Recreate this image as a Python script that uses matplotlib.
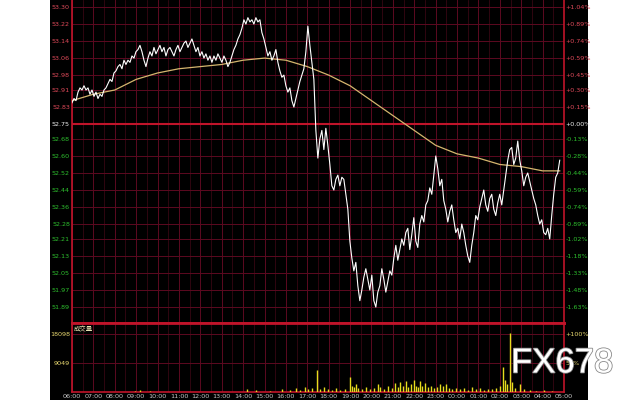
import numpy as np
import matplotlib
matplotlib.use("Agg")
import matplotlib.pyplot as plt
from matplotlib.patches import Rectangle
import matplotlib.patheffects as pe

# ---------------- data ----------------
price = [
    52.85, 52.87, 52.86, 52.90, 52.92, 52.91, 52.93, 52.91, 52.92, 52.89,
    52.91, 52.88, 52.90, 52.87, 52.89, 52.88, 52.91, 52.92, 52.94, 52.96,
    52.95, 52.99, 53.00, 53.02, 53.03, 53.01, 53.05, 53.03, 53.05, 53.04,
    53.07, 53.06, 53.09, 53.10, 53.12, 53.09, 53.05, 53.02, 53.06, 53.09,
    53.07, 53.11, 53.08, 53.10, 53.12, 53.09, 53.11, 53.07, 53.10, 53.11,
    53.09, 53.07, 53.10, 53.12, 53.09, 53.11, 53.13, 53.14, 53.11, 53.13,
    53.15, 53.12, 53.09, 53.11, 53.07, 53.09, 53.06, 53.08, 53.05, 53.07,
    53.04, 53.07, 53.05, 53.08, 53.06, 53.04, 53.07, 53.05, 53.02, 53.04,
    53.07, 53.10, 53.12, 53.15, 53.17, 53.20, 53.24, 53.22, 53.25, 53.23,
    53.24, 53.22, 53.25, 53.23, 53.24, 53.18, 53.15, 53.11, 53.07, 53.09,
    53.05, 53.07, 53.10, 53.04, 53.00, 52.97, 52.98, 52.93, 52.90, 52.92,
    52.86, 52.83, 52.87, 52.91, 52.95, 52.98, 53.01, 53.09, 53.21, 53.12,
    53.04, 52.96, 52.72, 52.59, 52.68, 52.72, 52.63, 52.73, 52.65, 52.56,
    52.46, 52.44, 52.49, 52.51, 52.46, 52.50, 52.49, 52.42, 52.35, 52.20,
    52.12, 52.06, 52.10, 51.99, 51.92, 51.97, 52.03, 52.07, 52.02, 51.97,
    52.04, 51.92, 51.89, 51.96, 51.99, 52.07, 52.02, 51.96, 52.01, 52.06,
    52.04, 52.12, 52.18, 52.11, 52.16, 52.21, 52.18, 52.24, 52.26, 52.16,
    52.23, 52.31, 52.20, 52.17, 52.28, 52.32, 52.29, 52.37, 52.39, 52.45,
    52.42, 52.51, 52.60, 52.54, 52.46, 52.49, 52.39, 52.35, 52.29, 52.34,
    52.37, 52.30, 52.24, 52.26, 52.21, 52.28, 52.24, 52.18, 52.13, 52.10,
    52.18, 52.24, 52.32, 52.30, 52.36, 52.40, 52.44, 52.37, 52.34, 52.40,
    52.42, 52.35, 52.32, 52.38, 52.42, 52.37, 52.44, 52.51, 52.58, 52.63,
    52.64, 52.56, 52.59, 52.67, 52.58, 52.53, 52.46, 52.50, 52.52, 52.48,
    52.44, 52.40, 52.37, 52.32, 52.28, 52.30, 52.24, 52.23, 52.26, 52.21,
    52.32, 52.42, 52.50, 52.52, 52.58,
]
price_end_minute = 1368  # last tick ~04:48

ma_minutes = [0, 60, 120, 180, 240, 300, 360, 420, 480, 540, 600, 660,
              720, 780, 840, 900, 960, 1020, 1080, 1140, 1200, 1260, 1320, 1368]
ma_values = [52.86, 52.89, 52.91, 52.96, 52.99, 53.01, 53.02, 53.03, 53.05,
             53.06, 53.05, 53.02, 52.98, 52.93, 52.86, 52.79, 52.72, 52.65,
             52.61, 52.59, 52.56, 52.55, 52.53, 52.53]

vol_minutes = [177, 191, 219, 491, 516, 555, 589, 611, 628, 639, 653, 662,
               673, 687, 695, 707, 718, 729, 740, 751, 765, 780, 785, 791,
               796, 802, 813, 824, 836, 847, 858, 864, 875, 886, 897, 906,
               914, 920, 928, 937, 942, 951, 959, 965, 970, 976, 981, 990,
               998, 1007, 1015, 1023, 1032, 1040, 1049, 1057, 1066, 1077,
               1088, 1099, 1110, 1122, 1133, 1144, 1155, 1166, 1178, 1189,
               1200, 1209, 1214, 1220, 1228, 1234, 1242, 1256, 1267, 1284,
               1301, 1324, 1346]
vol_values = [400, 600, 300, 900, 600, 300, 900, 600, 1200, 500, 1500, 900,
              1200, 6900, 1000, 1500, 800, 600, 1200, 700, 900, 4700, 2000,
              1500, 2500, 1200, 900, 1500, 800, 1200, 2500, 1500, 1000, 1800,
              1200, 2800, 1500, 3000, 2000, 3400, 1500, 2500, 3800, 2000,
              1500, 3500, 1800, 2800, 1500, 2000, 1200, 1600, 2600, 1800,
              2400, 1200, 900, 1300, 800, 1100, 700, 1500, 900, 1300, 700,
              1000, 800, 1400, 2000, 7800, 3800, 2500, 18400, 3100, 1200,
              2500, 900, 500, 400, 600, 300]

price_labels = ["53.30", "53.22", "53.14", "53.06", "52.98", "52.91", "52.83",
                "52.75", "52.68", "52.60", "52.52", "52.44", "52.36", "52.28",
                "52.21", "52.13", "52.05", "51.97", "51.89"]
pct_labels = ["+1.04%", "+0.89%", "+0.74%", "+0.59%", "+0.45%", "+0.30%",
              "+0.15%", "+0.00%", "-0.13%", "-0.28%", "-0.44%", "-0.59%",
              "-0.74%", "-0.89%", "-1.02%", "-1.18%", "-1.33%", "-1.48%",
              "-1.63%"]
base_price = 52.75
time_labels = ["06:00", "07:00", "08:00", "09:00", "10:00", "11:00", "12:00",
               "13:00", "14:00", "15:00", "16:00", "17:00", "18:00", "19:00",
               "20:00", "21:00", "22:00", "23:00", "00:00", "01:00", "02:00",
               "03:00", "04:00", "05:00"]
vol_ticks = [9049, 18098]
vol_tick_labels = ["9049", "18098"]
vol_pct_labels = ["50%", "+100%"]

# ---------------- style ----------------
W, H = 640, 400
RED_GRID = "#5c0a20"
RED_DIM = "#360712"
RED_BOLD = "#c0142a"
UP = "#e04a5a"
DOWN = "#2ec02e"
NEUTRAL = "#f0f0f0"
VOLC = "#e6dc1e"
LBL_Y = "#e8d870"
FS = 4.6

fig = plt.figure(figsize=(W / 100, H / 100), dpi=100)
fig.patch.set_facecolor("white")
fig.add_artist(Rectangle((50 / W, 0), 538 / W, 1, transform=fig.transFigure,
                         facecolor="black", edgecolor="none", zorder=0))

x0, x1 = 72, 564
ax = fig.add_axes([x0 / W, 1 - 323 / H, (x1 - x0) / W, 323 / H])
axv = fig.add_axes([x0 / W, 1 - 392 / H, (x1 - x0) / W, 69 / H])

total_min = 23 * 60
tick_vals = [float(s) for s in price_labels]

for a in (ax, axv):
    a.set_facecolor("black")
    a.set_xlim(0, total_min)
    for h in range(24):
        a.axvline(h * 60, color=RED_GRID, lw=0.7, zorder=1)
        if h < 23:
            a.axvline(h * 60 + 30, color=RED_DIM, lw=0.6, zorder=1)
    for s in a.spines.values():
        s.set_color(RED_BOLD)
        s.set_linewidth(1.2)

# main panel
ax.set_ylim(51.815, 53.333)
for v in tick_vals:
    if abs(v - base_price) < 1e-6:
        ax.axhline(v, color=RED_BOLD, lw=1.5, zorder=1)
    else:
        ax.axhline(v, color=RED_GRID, lw=0.7, zorder=1)
ax.spines["top"].set_visible(False)
ax.spines["bottom"].set_linewidth(2.0)

minutes = np.linspace(0, price_end_minute, len(price))
ax.plot(ma_minutes, ma_values, color="#d4b66e", lw=0.9, zorder=3)
ax.plot(minutes, price, color="white", lw=0.8, zorder=4)

def lab_color(v):
    if abs(v - base_price) < 1e-6:
        return NEUTRAL
    return UP if v > base_price else DOWN

ax.set_yticks(tick_vals)
ax.set_yticklabels(price_labels, fontsize=FS)
for t, v in zip(ax.get_yticklabels(), tick_vals):
    t.set_color(lab_color(v))
ax.tick_params(axis="y", length=0, pad=1.5)
ax.set_xticks([])

ax2 = ax.twinx()
ax2.set_ylim(ax.get_ylim())
ax2.set_yticks(tick_vals)
ax2.set_yticklabels(pct_labels, fontsize=FS)
for t, v in zip(ax2.get_yticklabels(), tick_vals):
    t.set_color(lab_color(v))
ax2.tick_params(axis="y", length=0, pad=1)
for s in ax2.spines.values():
    s.set_visible(False)

# volume panel
axv.set_ylim(0, 21500)
for v in vol_ticks:
    axv.axhline(v, color=RED_GRID, lw=0.7, zorder=1)
axv.vlines(vol_minutes, 0, vol_values, color=VOLC, lw=1.0, zorder=3)
axv.spines["top"].set_linewidth(2.0)
axv.set_yticks(vol_ticks)
axv.set_yticklabels(vol_tick_labels, fontsize=FS, color=LBL_Y)
axv.tick_params(axis="y", length=0, pad=1.5)
axv.set_xticks([h * 60 for h in range(24)])
axv.set_xticklabels(time_labels, fontsize=FS, color="#c8c8c8")
axv.tick_params(axis="x", length=0, pad=1.5)
axv.text(0.004, 0.97, "成交量", transform=axv.transAxes, fontsize=FS,
         color="#e8e0b0", va="top", ha="left",
         family=["Noto Sans CJK SC", "DejaVu Sans"])

axv2 = axv.twinx()
axv2.set_ylim(axv.get_ylim())
axv2.set_yticks(vol_ticks)
axv2.set_yticklabels(vol_pct_labels, fontsize=FS, color=LBL_Y)
axv2.tick_params(axis="y", length=0, pad=1)
for s in axv2.spines.values():
    s.set_visible(False)

# watermark
fig.text(511 / W, 1 - 363 / H, "FX678", fontsize=25, color="white",
         family="Liberation Sans", ha="left", va="center",
         path_effects=[pe.withStroke(linewidth=1.2, foreground="#8a8a8a")],
         zorder=10)

fig.savefig("out.png", dpi=100, facecolor=fig.get_facecolor())
